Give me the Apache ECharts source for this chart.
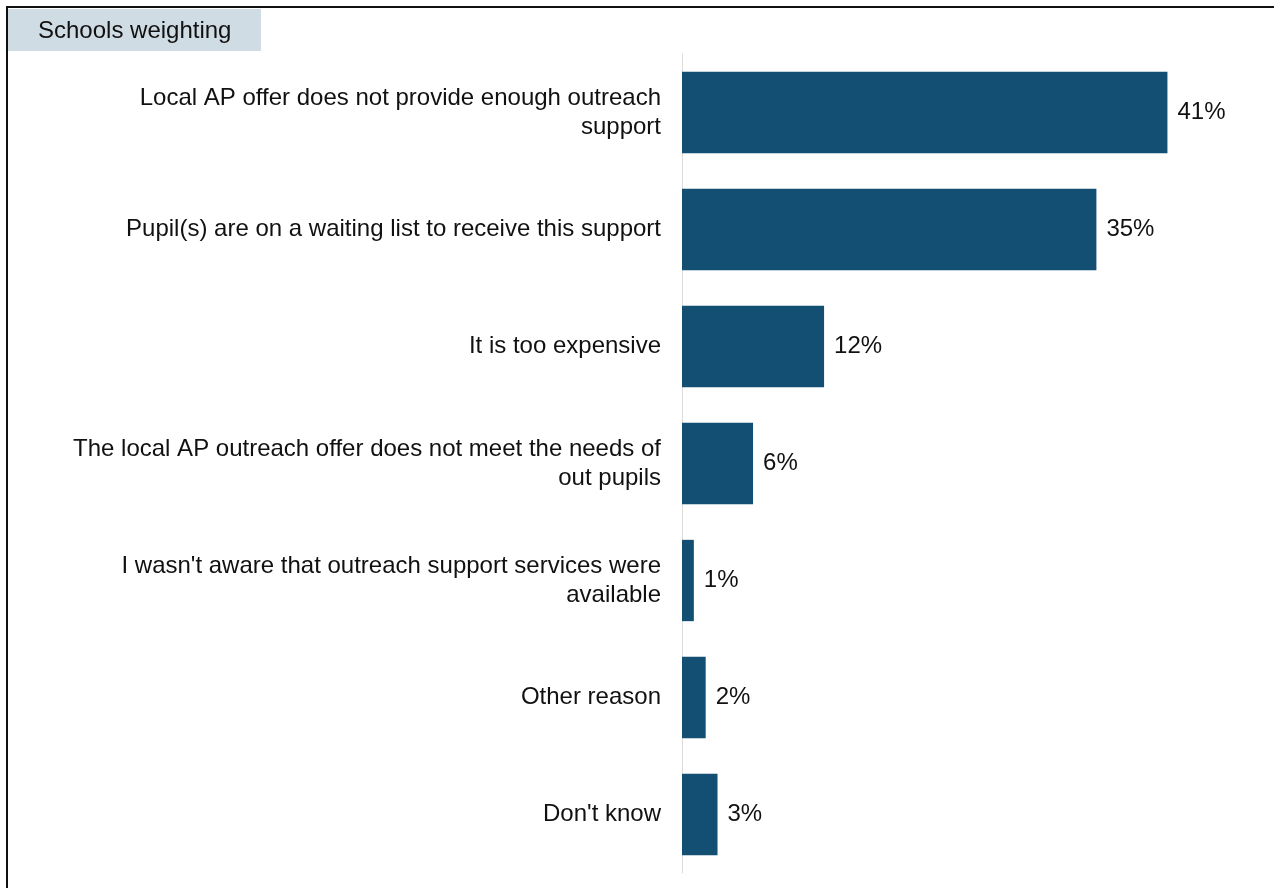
<!DOCTYPE html>
<html><head><meta charset="utf-8">
<script src="https://cdn.jsdelivr.net/npm/echarts@6/dist/echarts.min.js"></script>
<style>html,body{margin:0;padding:0;background:#fff}#c{width:1274px;height:888px}</style>
</head><body><div id="c"></div>
<script>
const categories = [
  "Local AP offer does not provide enough outreach\nsupport",
  "Pupil(s) are on a waiting list to receive this support",
  "It is too expensive",
  "The local AP outreach offer does not meet the needs of\nout pupils",
  "I wasn't aware that outreach support services were\navailable",
  "Other reason",
  "Don't know"
];
const values = [41, 35, 12, 6, 1, 2, 3];
const title = "Schools weighting";

const FF = '"Liberation Sans", Arial, sans-serif';
const chart = echarts.init(document.getElementById('c'));
chart.setOption({
  animation: false,
  textStyle: {fontFamily: FF},
  graphic: [
    {type: 'rect', shape: {x: 6, y: 6, width: 1274, height: 2}, style: {fill: '#111'}},
    {type: 'rect', shape: {x: 6, y: 6, width: 2, height: 890}, style: {fill: '#111'}},
    {type: 'rect', shape: {x: 8, y: 9, width: 253, height: 42}, style: {fill: '#D0DCE4'}},
    {type: 'text', left: 38, top: 19, style: {text: title, font: '24px ' + FF, fill: '#111'}}
  ],
  grid: {left: 682, right: 0, top: 54, bottom: 15, containLabel: false},
  xAxis: {type: 'value', min: 0, max: 50, show: false},
  yAxis: {
    type: 'category', inverse: true, data: categories,
    axisLine: {show: true, lineStyle: {color: '#dcdcdc', width: 1}},
    axisTick: {show: false},
    axisLabel: {color: '#111', fontSize: 24, lineHeight: 29, margin: 21, align: 'right',
      fontFamily: FF}
  },
  series: [{
    type: 'bar', data: values, barCategoryGap: '30.5%',
    itemStyle: {color: '#124F73'},
    label: {show: true, position: 'right', distance: 10, color: '#111', fontSize: 24,
      fontFamily: FF,
      formatter: p => Math.round(p.value) + '%'}
  }]
});
</script></body></html>
